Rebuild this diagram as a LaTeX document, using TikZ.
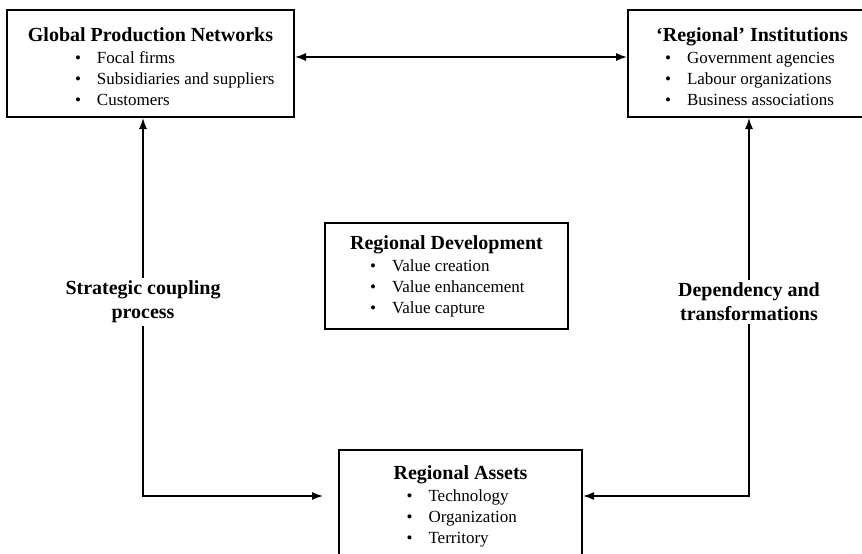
\documentclass[tikz,border=0pt]{standalone}
\usepackage{fontspec}
\setmainfont{Liberation Serif}
\usetikzlibrary{arrows.meta}

\newcommand{\itm}[2]{\makebox[#1][l]{\makebox[22pt][l]{\textbullet}#2}}
\newcommand{\ttl}[1]{{\bfseries\fontsize{20}{22}\selectfont #1}\\[1pt]}

\tikzset{
  box/.style={draw, line width=2pt, minimum height=107pt, align=center,
    font=\fontsize{17}{21}\selectfont},
  link/.style={line width=1.3pt, {Latex[length=11pt,width=8pt]}-{Latex[length=11pt,width=8pt]}},
  tag/.style={fill=white, align=center, inner sep=3pt,
    font=\bfseries\fontsize{20}{24}\selectfont}
}

\begin{document}
\begin{tikzpicture}[x=1pt, y=-1pt]
        \useasboundingbox (0,0) rectangle (862,554);
        \clip (0,0) rectangle (862,554);

        \node [box, minimum width=287pt] (gpn) at (150.5,63.5)
          {\ttl{\rule{0pt}{20pt}Global Production Networks}
           \itm{151pt}{Focal firms}\\
           \itm{151pt}{Subsidiaries and suppliers}\\
           \itm{151pt}{Customers}};
        \node [box, minimum width=248pt] (ri) at (752,63.5)
          {\ttl{\rule{0pt}{20pt}`Regional' Institutions}
           \itm{174pt}{Government agencies}\\
           \itm{174pt}{Labour organizations}\\
           \itm{174pt}{Business associations}};
        \node [box, minimum width=243pt, minimum height=106pt] (rd) at (446.5,276)
          {\ttl{Regional Development}
           \itm{153pt}{Value creation}\\
           \itm{153pt}{Value enhancement}\\
           \itm{153pt}{Value capture}};
        \node [box, minimum width=243pt, minimum height=120pt] (ra) at (460.5,510)
          {\ttl{Regional Assets}
           \itm{108pt}{Technology}\\
           \itm{108pt}{Organization}\\
           \itm{108pt}{Territory\rule[-10pt]{0pt}{10pt}}};

        \coordinate (lc) at (143,496);
        \coordinate (rc) at (749,496);

        \draw [link] ([yshift=6.5pt]gpn.east) -- ([yshift=6.5pt]ri.west);
        \draw [link] (gpn.south -| lc) -- (lc) -- ([xshift=-15pt]ra.west |- lc);
        \draw [link] (ri.south -| rc) -- (rc) -- (ra.east |- rc);

        \node [tag] (scp) at (143,302) {Strategic coupling\\process};
        \node [tag] (dtr) at (749,302) {Dependency and\\transformations};
      \end{tikzpicture}
\end{document}
